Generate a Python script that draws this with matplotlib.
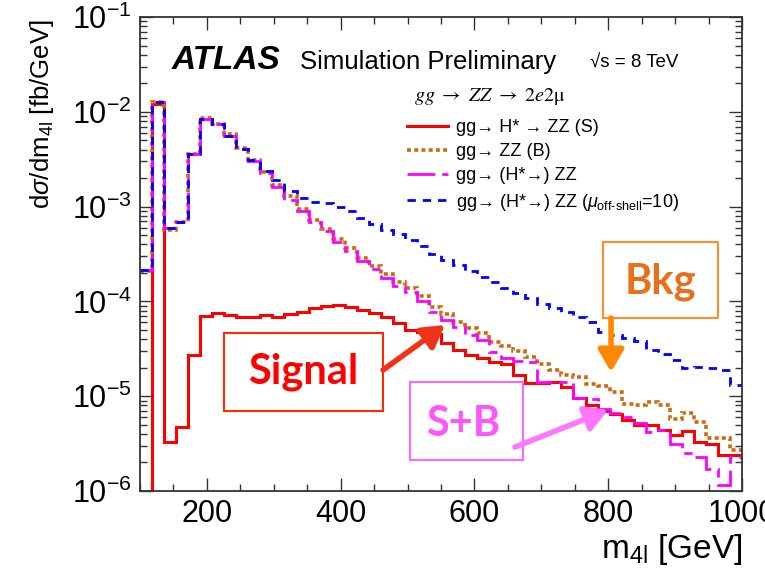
import numpy as np
import matplotlib
matplotlib.use("Agg")
import matplotlib.pyplot as plt
from matplotlib.ticker import MultipleLocator, LogLocator, NullFormatter
from matplotlib.patches import Rectangle

plt.rcParams["font.family"] = ["Liberation Sans", "DejaVu Sans"]
plt.rcParams["mathtext.fontset"] = "custom"
plt.rcParams["mathtext.rm"] = "Liberation Sans"
plt.rcParams["mathtext.it"] = "Liberation Sans:italic"
plt.rcParams["mathtext.bf"] = "Liberation Sans:bold"
plt.rcParams["axes.unicode_minus"] = False

# m4l binning: 50 bins of 18 GeV
edges = np.linspace(100, 1000, 51)

# gg -> H* -> ZZ (S)
sig = [1e-9, 1.2e-2, 3.3e-6, 4.7e-6, 2.7e-5, 7.1e-5, 7.6e-5, 7.2e-5, 6.9e-5, 6.9e-5,
       7.2e-5, 6.9e-5, 7.4e-5, 7.8e-5, 8.5e-5, 8.9e-5, 9.1e-5, 8.7e-5, 8.1e-5, 7.5e-5,
       6.8e-5, 5.9e-5, 5.0e-5, 4.8e-5, 4.5e-5, 3.6e-5, 3.1e-5, 2.75e-5, 2.5e-5, 2.3e-5,
       2.2e-5, 1.66e-5, 1.37e-5, 1.37e-5, 1.4e-5, 1.26e-5, 9.5e-6, 8.1e-6, 6.9e-6, 6.5e-6,
       5.6e-6, 5.0e-6, 5.0e-6, 4.4e-6, 3.9e-6, 4.25e-6, 3.3e-6, 3.1e-6, 2.4e-6, 2.4e-6]

# gg -> ZZ (B)
bkg = [2.1e-4, 1.28e-2, 5.6e-4, 6.9e-4, 3.6e-3, 8.6e-3, 7.4e-3, 5.8e-3, 4.2e-3, 3.1e-3,
       2.3e-3, 1.7e-3, 1.3e-3, 9.4e-4, 7.3e-4, 5.8e-4, 4.5e-4, 3.7e-4, 2.9e-4, 2.35e-4,
       1.95e-4, 1.6e-4, 1.37e-4, 1.15e-4, 8.8e-5, 7.4e-5, 6.0e-5, 5.3e-5, 4.6e-5, 3.7e-5,
       3.4e-5, 3.0e-5, 2.6e-5, 2.2e-5, 1.9e-5, 1.66e-5, 1.6e-5, 1.35e-5, 1.28e-5, 1.12e-5,
       8.3e-6, 8.1e-6, 8.7e-6, 8.1e-6, 5.7e-6, 6.6e-6, 5.4e-6, 3.6e-6, 3.6e-6, 2.7e-6]

# gg -> (H* ->) ZZ, full S+B+I
sbi = [2.15e-4, 1.28e-2, 6.0e-4, 6.9e-4, 3.6e-3, 8.4e-3, 7.4e-3, 5.6e-3, 4.1e-3, 3.05e-3,
       2.24e-3, 1.62e-3, 1.17e-3, 8.9e-4, 6.9e-4, 5.5e-4, 4.2e-4, 3.4e-4, 2.7e-4, 2.2e-4,
       1.77e-4, 1.46e-4, 1.26e-4, 1.02e-4, 7.8e-5, 6.3e-5, 5.4e-5, 4.4e-5, 3.9e-5, 2.96e-5,
       2.5e-5, 2.35e-5, 2.3e-5, 1.4e-5, 1.4e-5, 1.4e-5, 9.5e-6, 9.3e-6, 7.4e-6, 6.6e-6,
       6.0e-6, 5.2e-6, 4.2e-6, 4.4e-6, 3.1e-6, 2.5e-6, 2.3e-6, 1.7e-6, 1.15e-6, 2.3e-6]

# same with mu_off-shell = 10
sbi10 = [2.15e-4, 1.28e-2, 6.0e-4, 6.9e-4, 3.6e-3, 8.4e-3, 7.5e-3, 5.6e-3, 4.1e-3, 3.1e-3,
         2.4e-3, 1.9e-3, 1.45e-3, 1.23e-3, 1.12e-3, 1.08e-3, 9.8e-4, 8.9e-4, 7.6e-4, 6.6e-4,
         5.6e-4, 5.1e-4, 4.4e-4, 3.8e-4, 3.2e-4, 2.75e-4, 2.4e-4, 2.1e-4, 1.8e-4, 1.6e-4,
         1.4e-4, 1.22e-4, 1.08e-4, 9.5e-5, 8.5e-5, 7.8e-5, 6.9e-5, 6.1e-5, 4.8e-5, 4.4e-5,
         4.1e-5, 3.8e-5, 3.1e-5, 2.8e-5, 2.4e-5, 2.0e-5, 2.05e-5, 2.0e-5, 1.9e-5, 1.3e-5]

labels = ["gg→ H* → ZZ (S)",
          "gg→ ZZ (B)",
          "gg→ (H*→) ZZ",
          r"gg→ (H*→) ZZ ($\mu_{\mathregular{off\text{-}shell}}$=10)"]

fig = plt.figure(figsize=(7.65, 5.68), dpi=100)
ax = fig.add_axes([0.183, 0.1356, 0.787, 0.8344])

ax.stairs(sig, edges, baseline=None, color="#ff0000", lw=2.2, label=labels[0])
ax.stairs(bkg, edges, baseline=None, color="#cc6a10", lw=2.6,
          linestyle=(0, (1.1, 0.9)), label=labels[1])
ax.stairs(sbi, edges, baseline=None, color="#ff00ff", lw=2.0,
          linestyle=(0, (10, 2.5, 3, 2.5)), label=labels[2])
ax.stairs(sbi10, edges, baseline=None, color="#0000ff", lw=2.0,
          linestyle=(0, (3, 2.5)), label=labels[3])

ax.set_yscale("log")
ax.set_xlim(100, 1000)
ax.set_ylim(1e-6, 1e-1)
ax.xaxis.set_major_locator(MultipleLocator(200))
ax.xaxis.set_minor_locator(MultipleLocator(50))
ax.yaxis.set_major_locator(LogLocator(base=10))
ax.yaxis.set_minor_locator(LogLocator(base=10, subs=np.arange(2, 10)))
ax.yaxis.set_minor_formatter(NullFormatter())
ax.tick_params(which="both", direction="in", top=True, right=True, width=1.0,
               colors="#333333", labelcolor="black", labelsize=22, pad=6)
ax.tick_params(which="major", length=9.5)
ax.tick_params(which="minor", length=5)
for sp in ax.spines.values():
    sp.set_linewidth(1.3)
    sp.set_color("#333333")

ax.set_xlabel(r"m$_{\mathregular{4l}}$ [GeV]", fontsize=24, loc="right")
ax.xaxis.set_label_coords(1.0, -0.086)
ax.set_ylabel(r"d$\sigma$/dm$_{\mathregular{4l}}$ [fb/GeV]", fontsize=18.5, loc="top")
ax.yaxis.set_label_coords(-0.14, 0.995)

# ATLAS label and process text
ax.text(0.052, 0.89, "ATLAS", transform=ax.transAxes, fontsize=24,
        fontweight="bold", fontstyle="italic")
ax.text(0.265, 0.89, "Simulation Preliminary", transform=ax.transAxes, fontsize=18.5)
ax.text(0.748, 0.893, "√s = 8 TeV", transform=ax.transAxes, fontsize=13.5)
ax.text(0.455, 0.822, r"$gg\ \rightarrow\ ZZ\ \rightarrow\ 2e2\mathrm{\mu}$",
        transform=ax.transAxes, fontsize=14.5, math_fontfamily="stix")

ax.legend(loc="upper left", bbox_to_anchor=(0.443, 0.785), frameon=False,
          fontsize=13, handlelength=2.3, handletextpad=0.45, labelspacing=0.4,
          borderpad=0, borderaxespad=0)

# callout boxes with arrows
boxes = [
    ("Signal", (0.1395, 0.1688, 0.2642, 0.1645), (0.271, 0.251), "#ff0000", "#ff2a00"),
    ("S+B", (0.4485, 0.0654, 0.1877, 0.1646), (0.537, 0.141), "#ff55ff", "#ff66ff"),
    ("Bkg", (0.769, 0.365, 0.191, 0.160), (0.864, 0.441), "#e8701a", "#ff8c26"),
]
for txt, (bx, by, bw, bh), (tx, ty), tcol, ecol in boxes:
    ax.add_patch(Rectangle((bx, by), bw, bh, transform=ax.transAxes,
                           facecolor="white", edgecolor=ecol, lw=1.5, zorder=5))
    ax.text(tx, ty, txt, transform=ax.transAxes, ha="center", va="center",
            fontsize=30, fontweight="bold", family="Lato", color=tcol, zorder=6)

arrows = [
    ((0.4037, 0.2553), (0.5066, 0.3502), "#f0321a"),
    ((0.623, 0.0928), (0.7774, 0.1709), "#ff77ff"),
    ((0.7824, 0.365), (0.7824, 0.251), "#ff8800"),
]
for start, tip, col in arrows:
    ax.annotate("", xy=tip, xytext=start, xycoords="axes fraction",
                textcoords="axes fraction", zorder=7,
                arrowprops=dict(arrowstyle="-|>,head_length=0.6,head_width=0.35",
                                lw=4, color=col, mutation_scale=22,
                                shrinkA=0, shrinkB=0))

fig.savefig("out.png", dpi=100)
